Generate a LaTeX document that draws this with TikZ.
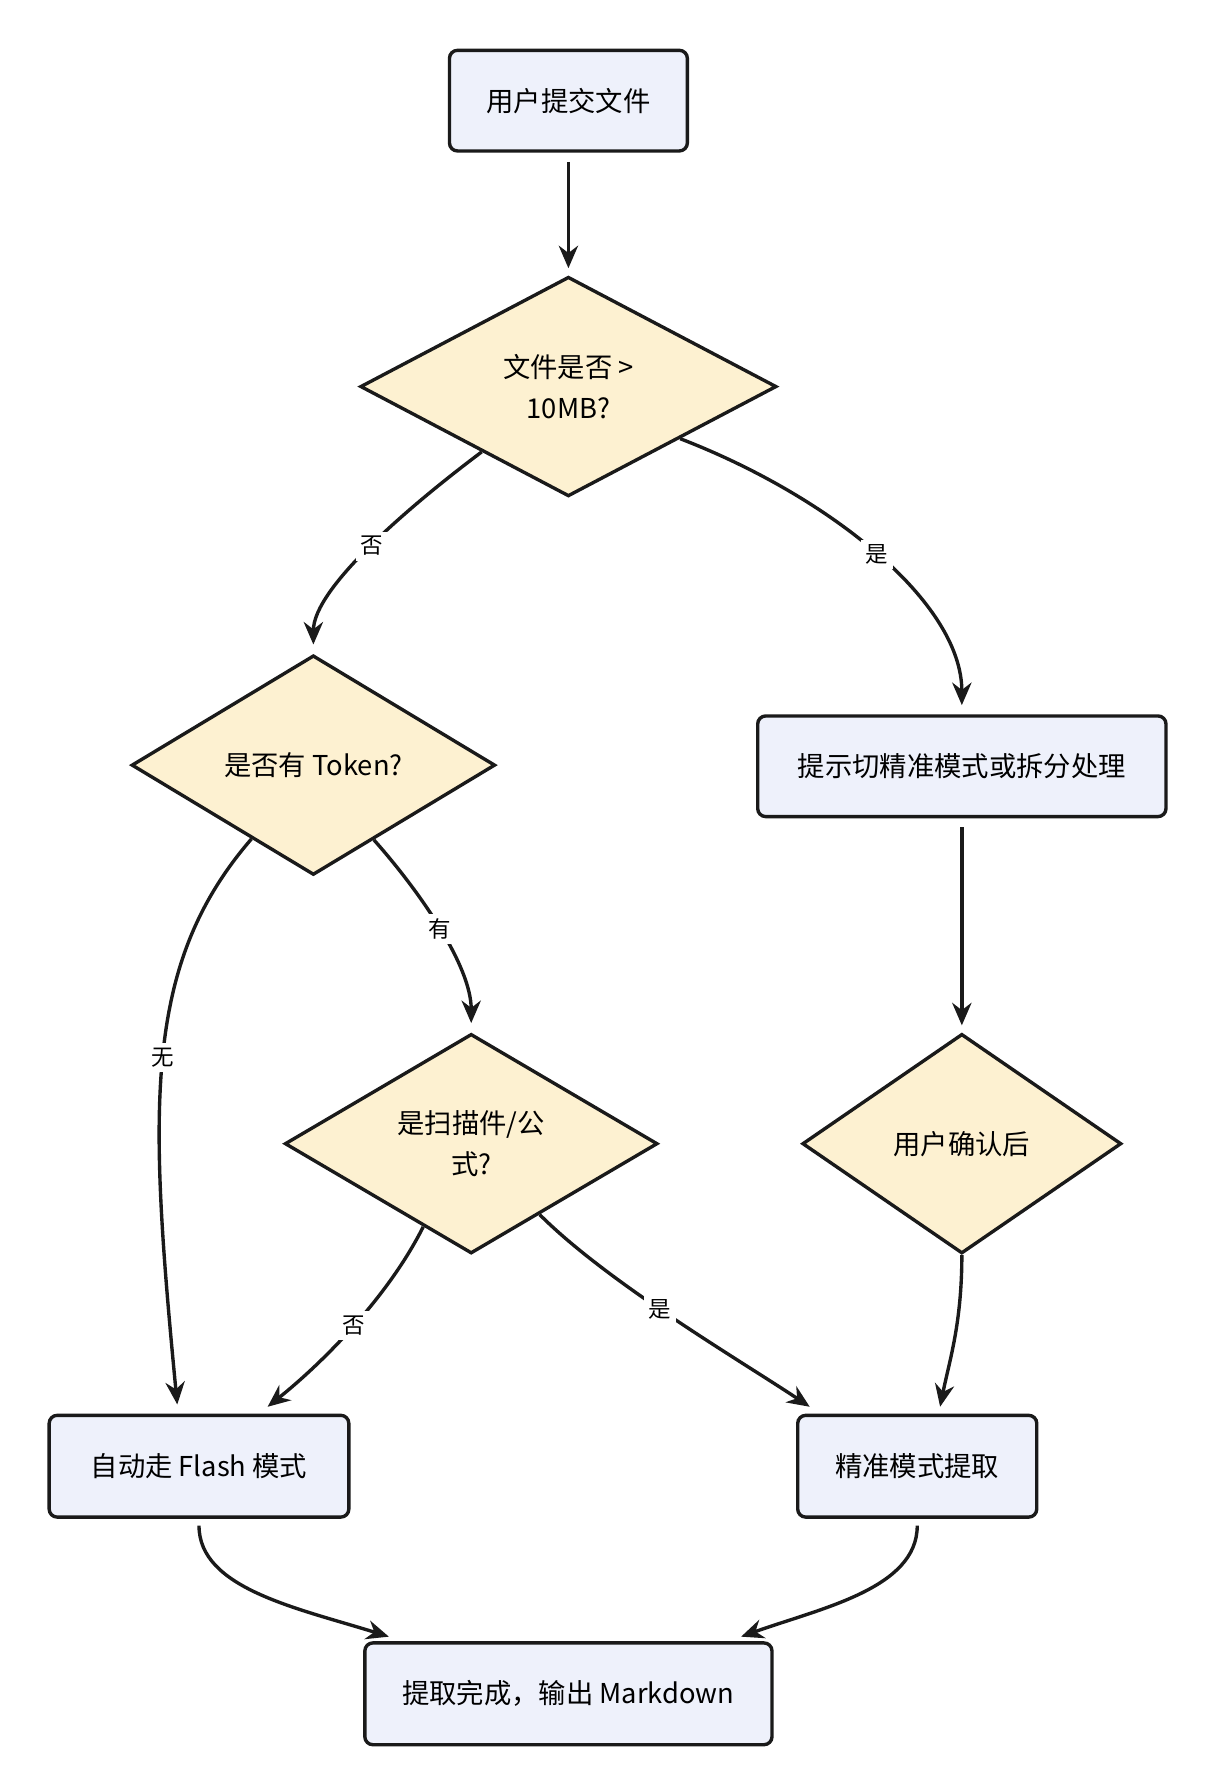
\documentclass[tikz,border=0pt]{standalone}
\usepackage{fontspec}
\setmainfont{Noto Sans CJK SC}
\usetikzlibrary{shapes.geometric,arrows.meta,calc}
\definecolor{boxfill}{HTML}{EEF1FB}
\definecolor{diafill}{HTML}{FDF1D1}
\definecolor{edge}{HTML}{1A1A1A}
\begin{document}
\begin{tikzpicture}[x=0.05cm,y=-0.05cm,
  box/.style={draw=edge,line width=4.2pt,rounded corners=10pt,fill=boxfill,font=\fontsize{34}{40}\selectfont,inner sep=0pt},
  dia/.style={draw=edge,line width=4.2pt,diamond,fill=diafill,font=\fontsize{34}{50}\selectfont,align=center,inner sep=0pt},
  arr/.style={draw=edge,line width=4.2pt,-{Stealth[length=28pt,width=24pt]}},
  lab/.style={fill=white,font=\fontsize{28}{32}\selectfont,inner sep=6pt}]
\useasboundingbox[fill=white] (0,0) rectangle (1054,1552);
\node[box,minimum width=208*0.05cm,minimum height=88*0.05cm] (n1) at (497,88) {用户提交文件};
\node[dia,minimum width=364*0.05cm,minimum height=192*0.05cm] (d1) at (497,338) {文件是否 >\\10MB?};
\node[dia,minimum width=318*0.05cm,minimum height=192*0.05cm] (d2) at (274,669) {是否有 Token?};
\node[box,minimum width=357*0.05cm,minimum height=88*0.05cm] (n2) at (841,670) {提示切精准模式或拆分处理};
\node[dia,minimum width=326*0.05cm,minimum height=192*0.05cm] (d3) at (412,1000) {是扫描件/公\\式?};
\node[dia,minimum width=279*0.05cm,minimum height=192*0.05cm] (d4) at (841,1000) {用户确认后};
\node[box,minimum width=262*0.05cm,minimum height=89*0.05cm] (n3) at (174,1282) {自动走 Flash 模式};
\node[box,minimum width=209*0.05cm,minimum height=89*0.05cm] (n4) at (802,1282) {精准模式提取};
\node[box,minimum width=356*0.05cm,minimum height=89*0.05cm] (n5) at (497,1481) {提取完成，输出 Markdown};

\draw[arr] (n1.south) ++(0,8) -- ($(d1.north)+(0,-6)$);
\draw[arr] (d1.-143) .. controls +(-60,45) and +(0,-50) .. ($(d2.north)+(0,-8)$) node[lab,pos=0.5] {否};
\draw[arr] (d1.-25) .. controls +(130,50) and +(0,-90) .. ($(n2.north)+(0,-8)$) node[lab,pos=0.5] {是};
\draw[arr] (d2.-130) .. controls +(-95,110) and +(-25,-260) .. ($(n3.north)+(-19,-8)$) node[lab,pos=0.5] {无};
\draw[arr] (d2.-51) .. controls +(40,45) and +(0,-50) .. ($(d3.north)+(0,-8)$) node[lab,pos=0.5] {有};
\draw[arr] (d3.-120) .. controls +(-30,60) and +(50,-40) .. ($(n3.north)+(60,-6)$) node[lab,pos=0.5] {否};
\draw[arr] (d3.-46) .. controls +(60,60) and +(-60,-40) .. ($(n4.north)+(-94,-6)$) node[lab,pos=0.45] {是};
\draw[arr] (n2.south) ++(0,8) -- ($(d4.north)+(0,-6)$);
\draw[arr] (d4.south) .. controls +(0,60) and +(8,-40) .. ($(n4.north)+(20,-6)$);
\draw[arr] ($(n3.south)+(0,6)$) .. controls +(0,55) and +(-80,-25) .. ($(n5.north)+(-157,-4)$);
\draw[arr] ($(n4.south)+(0,6)$) .. controls +(0,55) and +(70,-25) .. ($(n5.north)+(151,-4)$);
\end{tikzpicture}
\end{document}
